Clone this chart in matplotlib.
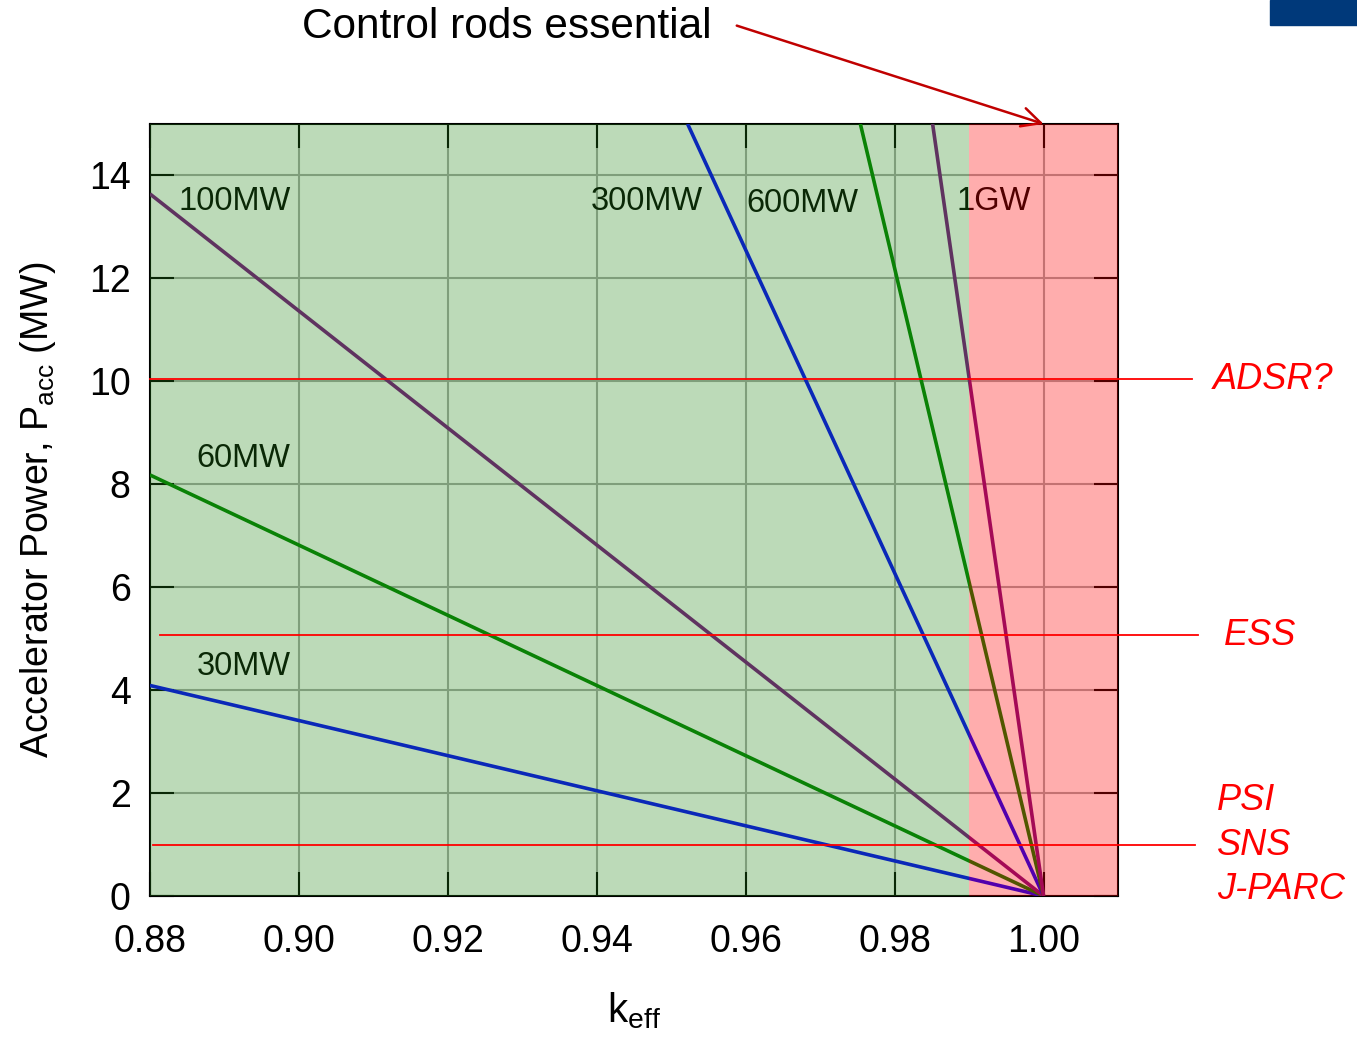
import matplotlib
matplotlib.use("Agg")
import matplotlib.pyplot as plt
from matplotlib.patches import Rectangle

plt.rcParams['font.family'] = ['Liberation Sans', 'DejaVu Sans']

# reactor power lines: (k_eff, P_acc) end points
line_labels = ["30MW", "60MW", "100MW", "300MW", "600MW", "1GW"]
line_k = [[0.88, 1.00], [0.88, 1.00], [0.88, 1.00],
          [0.9522, 1.00], [0.9754, 1.00], [0.9851, 1.00]]
line_p = [[4.09, 0.0], [8.18, 0.0], [13.64, 0.0],
          [15.0, 0.0], [15.0, 0.0], [15.0, 0.0]]
line_colors = ["#0000ff", "#008000", "#7a0f80", "#0000ff", "#008000", "#7a0f80"]
label_xy = [(0.8863, 4.45), (0.8863, 8.5), (0.8838, 13.5),
            (0.9392, 13.5), (0.9601, 13.45), (0.9883, 13.5)]

# existing / planned accelerators
facility_names = ["ADSR?", "ESS", "PSI\nSNS\nJ-PARC"]
facility_power = [10.04, 5.07, 0.99]
facility_start = [0.88, 0.8813, 0.8804]
facility_end = [1.0199, 1.0208, 1.0203]
facility_text_x = [1.0227, 1.0242, 1.0233]

fig = plt.figure(figsize=(13.57, 10.37), dpi=100)
ax = fig.add_axes([0.1105, 0.136, 0.7134, 0.7445])

for k, p, c in zip(line_k, line_p, line_colors):
    ax.plot(k, p, color=c, lw=2.6, zorder=3, solid_capstyle="butt")

for lab, (x, y) in zip(line_labels, label_xy):
    ax.text(x, y, lab, fontsize=23.5, ha="left", va="center", color="black", zorder=4)

# shaded regions sit on top of everything inside the axes
ax.axvspan(0.88, 0.99, color="#238716", alpha=0.3, lw=0, zorder=5)
ax.axvspan(0.99, 1.01, color="#ff0000", alpha=0.32, lw=0, zorder=5)

for name, p, x0, x1, tx in zip(facility_names, facility_power, facility_start,
                                facility_end, facility_text_x):
    ax.plot([x0, x1], [p, p], color="#ff0000", lw=1.3, zorder=6, clip_on=False)
    if "\n" in name:
        for i, part in enumerate(name.split("\n")):
            ax.text(tx, p + 0.87 - 0.87 * i, part, fontsize=26, style="italic",
                    color="#ff0000", ha="left", va="center", clip_on=False)
    else:
        ax.text(tx, p, name, fontsize=26, style="italic", color="#ff0000",
                ha="left", va="center", clip_on=False)

ax.set_xlim(0.88, 1.01)
ax.set_ylim(0, 15)
ax.set_xticks([0.88, 0.90, 0.92, 0.94, 0.96, 0.98, 1.00])
ax.set_xticklabels(["0.88", "0.90", "0.92", "0.94", "0.96", "0.98", "1.00"])
ax.set_yticks(range(0, 15, 2))
ax.tick_params(direction="in", length=17, width=1.5, top=True, right=True,
               labelsize=27)
ax.tick_params(axis="x", pad=20)
ax.tick_params(axis="y", pad=14)
ax.grid(True, color="#a8a8a8", lw=1.5, zorder=1)
ax.set_axisbelow(True)
for s in ax.spines.values():
    s.set_linewidth(1.5)

ax.set_xlabel(r"k$\mathregular{_{eff}}$", fontsize=29, labelpad=22)
ax.set_ylabel(r"Accelerator Power, P$\mathregular{_{acc}}$ (MW)", fontsize=27, labelpad=22)

# annotation arrow to the region needing control rods
fig.text(302 / 1357, 1 - 27 / 1037, "Control rods essential", fontsize=30.5,
         ha="left", va="center")
ax.annotate("", xy=(1.00, 15.0), xytext=(0.9588, 16.91),
            arrowprops=dict(arrowstyle="->", color="#c00000", lw=1.8,
                            mutation_scale=34, shrinkA=0, shrinkB=0),
            annotation_clip=False)

fig.patches.append(Rectangle((1270 / 1357, 1 - 25 / 1037), 87 / 1357, 25 / 1037,
                             transform=fig.transFigure, color="#00397a"))

fig.savefig("out.png", dpi=100)
